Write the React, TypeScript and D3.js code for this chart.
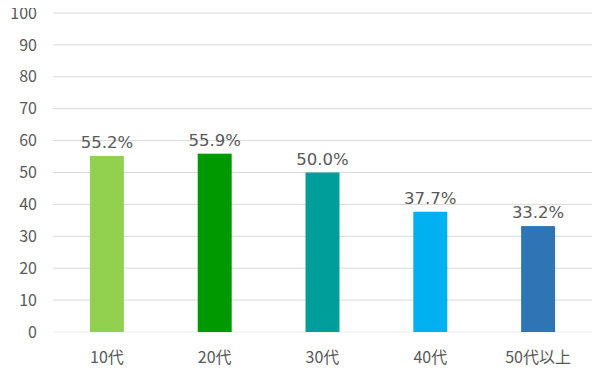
import React, { useEffect, useRef } from 'react';
import * as d3 from 'd3';

const categories = ['10代', '20代', '30代', '40代', '50代以上'];
const values = [55.2, 55.9, 50.0, 37.7, 33.2];
const barColors = ['#92d050', '#009a00', '#009e9a', '#00b0f0', '#2e75b6'];
const yTicks = [0, 10, 20, 30, 40, 50, 60, 70, 80, 90, 100];

const App = () => {
  const svgRef = useRef(null);

  useEffect(() => {
    const width = 600;
    const height = 374;
    const margin = { top: 13, right: 8, bottom: 42, left: 53 };
    const font = '"Noto Sans CJK JP", "Noto Sans", sans-serif';

    d3.select(svgRef.current).selectAll('*').remove();

    const svg = d3.select(svgRef.current)
      .attr('width', width)
      .attr('height', height)
      .style('display', 'block')
      .style('font-family', font);

    const xScale = d3.scaleBand()
      .domain(categories)
      .range([margin.left, width - margin.right])
      .paddingInner(0.685)
      .paddingOuter(0.3425);

    const yScale = d3.scaleLinear()
      .domain([0, 100])
      .range([height - margin.bottom, margin.top]);

    // gridlines
    svg.append('g')
      .selectAll('line')
      .data(yTicks)
      .join('line')
      .attr('x1', margin.left)
      .attr('x2', width - margin.right)
      .attr('y1', d => yScale(d))
      .attr('y2', d => yScale(d))
      .attr('stroke', d => (d === 0 ? '#ececec' : '#d9d9d9'))
      .attr('stroke-width', 1);

    // y labels
    svg.append('g')
      .selectAll('text')
      .data(yTicks)
      .join('text')
      .attr('x', 37)
      .attr('y', d => yScale(d))
      .attr('dy', '0.35em')
      .attr('text-anchor', 'end')
      .attr('fill', '#595959')
      .style('font-size', '16px')
      .text(d => d);

    // bars
    svg.append('g')
      .selectAll('rect')
      .data(values)
      .join('rect')
      .attr('x', (d, i) => xScale(categories[i])!)
      .attr('y', d => yScale(d))
      .attr('width', xScale.bandwidth())
      .attr('height', d => yScale(0) - yScale(d))
      .attr('fill', (d, i) => barColors[i]);

    // value labels
    svg.append('g')
      .selectAll('text')
      .data(values)
      .join('text')
      .attr('x', (d, i) => xScale(categories[i])! + xScale.bandwidth() / 2)
      .attr('y', d => yScale(d) - 8)
      .attr('text-anchor', 'middle')
      .attr('fill', '#595959')
      .style('font-family', '"DejaVu Sans", sans-serif')
      .style('font-size', '16.5px')
      .text(d => d.toFixed(1) + '%');

    // category labels
    svg.append('g')
      .selectAll('text')
      .data(categories)
      .join('text')
      .attr('x', d => xScale(d)! + xScale.bandwidth() / 2)
      .attr('y', 363)
      .attr('text-anchor', 'middle')
      .attr('fill', '#595959')
      .style('font-size', '16px')
      .text(d => d);
  }, []);

  return (
    <div style={{ margin: -8 }}>
      <svg ref={svgRef}></svg>
    </div>
  );
};

export default App;
